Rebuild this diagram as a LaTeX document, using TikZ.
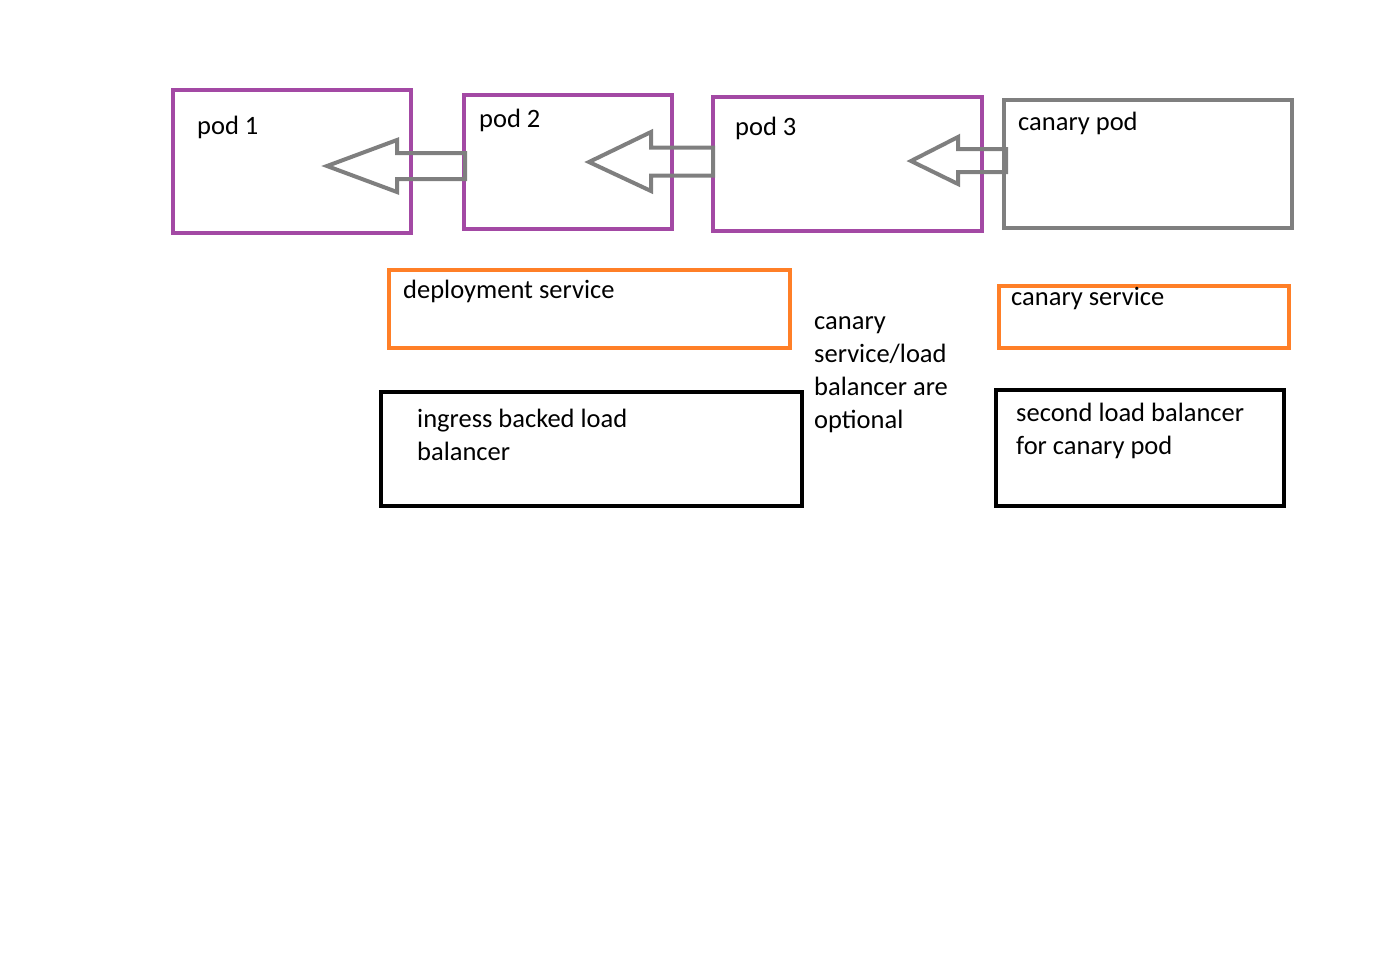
\documentclass[tikz,border=0pt]{standalone}
\usepackage{fontspec}
\setmainfont{Carlito}
\definecolor{podpurple}{HTML}{A349A4}
\definecolor{arrgrey}{HTML}{7F7F7F}
\definecolor{svcorange}{HTML}{FF7F27}
\tikzset{
  box/.style={draw, line width=4pt, inner sep=0pt},
  podbox/.style={box, draw=podpurple},
  canbox/.style={box, draw=arrgrey},
  svcbox/.style={box, draw=svcorange},
  lbbox/.style={box, draw=black, line width=4.5pt},
  lbl/.style={anchor=base west, inner sep=0pt, font=\fontsize{26.5}{33}\selectfont, align=left},
  blockarrow/.style={draw=arrgrey, line width=4pt, line join=miter}
}
\newcommand{\blkarrow}[7]{% tipx, cy, headx, headhalf, shafthalf, tailx, tipy
  \draw[blockarrow] (#1,#7) -- (#3,#2-#4) -- (#3,#2-#5) -- (#6,#2-#5) -- (#6,#2+#5) -- (#3,#2+#5) -- (#3,#2+#4) -- cycle;}
\begin{document}
\begin{tikzpicture}[x=1pt,y=-1pt]
\useasboundingbox (0,0) rectangle (1382,970);
% pods
\draw[podbox] (173,90) rectangle (411,233);
\draw[podbox] (464,95) rectangle (672,229);
\draw[podbox] (713,97) rectangle (982,231);
\draw[canbox] (1004,100) rectangle (1292,228);
% arrows
\blkarrow{327}{166}{397}{26}{13}{465}{166}
\blkarrow{589}{161.5}{651}{29.5}{14}{713}{162}
\blkarrow{911}{160.5}{958}{23.5}{11.5}{1006}{161}
% services
\draw[svcbox] (389,270) rectangle (790,348);
\draw[svcbox] (999,286) rectangle (1289,348);
\draw[lbbox] (381,392) rectangle (802,506);
\draw[lbbox] (996,390) rectangle (1284,506);
% labels
\node[lbl] (t1) at (197,134) {pod 1};
\node[lbl] (t2) at (479,127) {pod 2};
\node[lbl] (t3) at (735,135) {pod 3};
\node[lbl] (t4) at (1018,130) {canary pod};
\node[lbl] (t5) at (403,298) {deployment service};
\node[lbl] (t6) at (1011,305) {canary service};
\node[lbl] (t7) at (417,460) {ingress backed load\\balancer};
\node[lbl] (t8) at (1016,454) {second load balancer\\for canary pod};
\node[lbl] (t9) at (814,428) {canary\\service/load\\balancer are\\optional};
\end{tikzpicture}
\end{document}
